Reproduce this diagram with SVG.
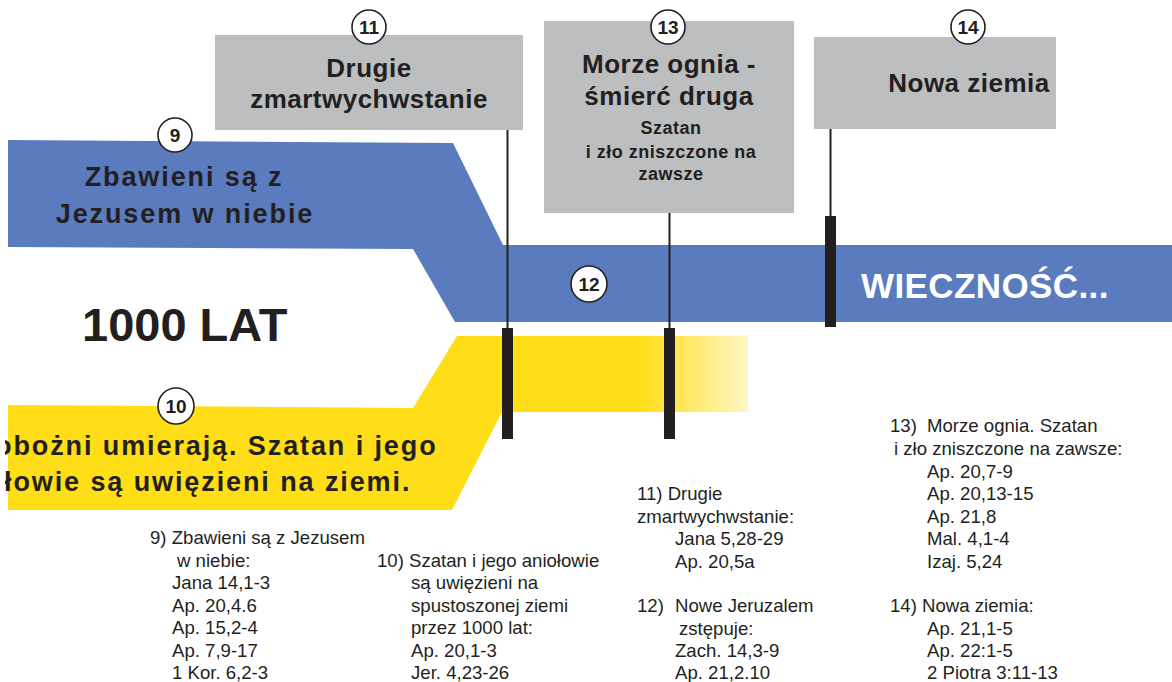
<svg xmlns="http://www.w3.org/2000/svg" width="1172" height="682" viewBox="0 0 1172 682">
<style>
.box{fill:#BCBEC0}
.dk{fill:#231F20}
.bt{font-family:"Liberation Sans",Arial,sans-serif;font-weight:bold;fill:#231F20}
.big{font-size:26px;letter-spacing:0.5px;text-anchor:middle}
.sm{font-size:18px;letter-spacing:0.5px;text-anchor:middle}
.band{font-size:27px;letter-spacing:1.9px}
.num circle{fill:#fff;stroke:#231F20;stroke-width:1.6}
.num text{font-family:"Liberation Sans",Arial,sans-serif;font-weight:bold;font-size:19px;fill:#231F20;text-anchor:middle}
.ref{font-family:"Liberation Sans",Arial,sans-serif;font-size:18.6px;fill:#231F20}
.thin{stroke:#231F20;stroke-width:2;fill:none}
</style>
<defs>
<linearGradient id="yfade" gradientUnits="userSpaceOnUse" x1="640" y1="0" x2="748" y2="0">
<stop offset="0" stop-color="#FFDD17"/>
<stop offset="1" stop-color="#FFF6C4"/>
</linearGradient>
<clipPath id="lclip"><rect x="5" y="0" width="1167" height="682"/></clipPath>
</defs>
<rect width="1172" height="682" fill="#fff"/>

<g id="band-blue">
<polygon points="8,140 453,143 503,245 1172,245 1172,322 455,322 413,249 8,247" fill="#5A7BBE"/>
<text class="bt band" x="184" y="186" text-anchor="middle">Zbawieni są z</text>
<text class="bt band" x="185" y="223" text-anchor="middle">Jezusem w niebie</text>
<text x="861" y="298" font-family="Liberation Sans, Arial, sans-serif" font-weight="bold" font-size="35" letter-spacing="0.4" fill="#fff">WIECZNOŚĆ...</text>
</g>

<g id="band-yellow">
<polygon points="8,405 413,408 457,336 748,336 748,412 502,412 452,510 8,510" fill="url(#yfade)"/>
<g clip-path="url(#lclip)">
<text class="bt band" x="-5" y="455">obożni umierają. Szatan i jego</text>
<text class="bt band" x="4" y="491" letter-spacing="2.1">łowie są uwięzieni na ziemi.</text>
</g>
</g>

<g id="label-1000">
<text class="bt" x="82" y="341" font-size="47">1000 LAT</text>
</g>

<g id="connectors">
<line class="thin" x1="507.5" y1="130" x2="507.5" y2="330"/>
<line class="thin" x1="669.5" y1="213" x2="669.5" y2="330"/>
<line class="thin" x1="830.5" y1="129" x2="830.5" y2="218"/>
<rect class="dk" x="502" y="328" width="11" height="111"/>
<rect class="dk" x="664" y="328" width="11" height="111"/>
<rect class="dk" x="825" y="216" width="11" height="111"/>
</g>

<g id="node-11">
<rect class="box" x="215" y="35" width="308" height="95"/>
<text class="bt big" x="369" y="77">Drugie</text>
<text class="bt big" x="369" y="108">zmartwychwstanie</text>
</g>

<g id="node-13">
<rect class="box" x="544" y="21" width="250" height="192"/>
<text class="bt big" x="669" y="73">Morze ognia -</text>
<text class="bt big" x="669" y="105">śmierć druga</text>
<text class="bt sm" x="671" y="134">Szatan</text>
<text class="bt sm" x="671" y="158">i zło zniszczone na</text>
<text class="bt sm" x="671" y="180">zawsze</text>
</g>

<g id="node-14">
<rect class="box" x="814" y="37" width="242" height="92"/>
<text class="bt big" x="969" y="92">Nowa ziemia</text>
</g>

<g class="num" id="num-11"><circle cx="369" cy="27" r="17"/><text x="369" y="34">11</text></g>
<g class="num" id="num-13"><circle cx="668" cy="27" r="17"/><text x="668" y="34">13</text></g>
<g class="num" id="num-14"><circle cx="968" cy="27" r="17"/><text x="968" y="34">14</text></g>
<g class="num" id="num-9"><circle cx="175" cy="135" r="17"/><text x="175" y="142">9</text></g>
<g class="num" id="num-12"><circle cx="589" cy="284" r="18"/><text x="589" y="291">12</text></g>
<g class="num" id="num-10"><circle cx="176" cy="406" r="18"/><text x="176" y="413">10</text></g>

<g id="refs-9">
<text class="ref">
<tspan x="150" y="544">9) Zbawieni są z Jezusem</tspan>
<tspan x="177" y="566.5">w niebie:</tspan>
<tspan x="172" y="589">Jana 14,1-3</tspan>
<tspan x="172" y="611.5">Ap. 20,4.6</tspan>
<tspan x="172" y="634">Ap. 15,2-4</tspan>
<tspan x="172" y="656.5">Ap. 7,9-17</tspan>
<tspan x="172" y="679">1 Kor. 6,2-3</tspan>
</text>
</g>

<g id="refs-10">
<text class="ref">
<tspan x="377" y="566.5">10) Szatan i jego aniołowie</tspan>
<tspan x="411" y="589">są uwięzieni na</tspan>
<tspan x="411" y="611.5">spustoszonej ziemi</tspan>
<tspan x="411" y="634">przez 1000 lat:</tspan>
<tspan x="411" y="656.5">Ap. 20,1-3</tspan>
<tspan x="411" y="679">Jer. 4,23-26</tspan>
</text>
</g>

<g id="refs-11-12">
<text class="ref">
<tspan x="637" y="500">11) Drugie</tspan>
<tspan x="637" y="522.5">zmartwychwstanie:</tspan>
<tspan x="675" y="545">Jana 5,28-29</tspan>
<tspan x="675" y="567.5">Ap. 20,5a</tspan>
<tspan x="637" y="612">12)</tspan>
<tspan x="675" y="612">Nowe Jeruzalem</tspan>
<tspan x="679" y="634.5">zstępuje:</tspan>
<tspan x="675" y="657">Zach. 14,3-9</tspan>
<tspan x="675" y="679">Ap. 21,2.10</tspan>
</text>
</g>

<g id="refs-13-14">
<text class="ref">
<tspan x="890" y="432">13)</tspan>
<tspan x="927" y="432">Morze ognia. Szatan</tspan>
<tspan x="894" y="455">i zło zniszczone na zawsze:</tspan>
<tspan x="927" y="477.5">Ap. 20,7-9</tspan>
<tspan x="927" y="500">Ap. 20,13-15</tspan>
<tspan x="927" y="522.5">Ap. 21,8</tspan>
<tspan x="927" y="545">Mal. 4,1-4</tspan>
<tspan x="927" y="567.5">Izaj. 5,24</tspan>
<tspan x="890" y="612">14) Nowa ziemia:</tspan>
<tspan x="927" y="634.5">Ap. 21,1-5</tspan>
<tspan x="927" y="657">Ap. 22:1-5</tspan>
<tspan x="927" y="679">2 Piotra 3:11-13</tspan>
</text>
</g>
</svg>
